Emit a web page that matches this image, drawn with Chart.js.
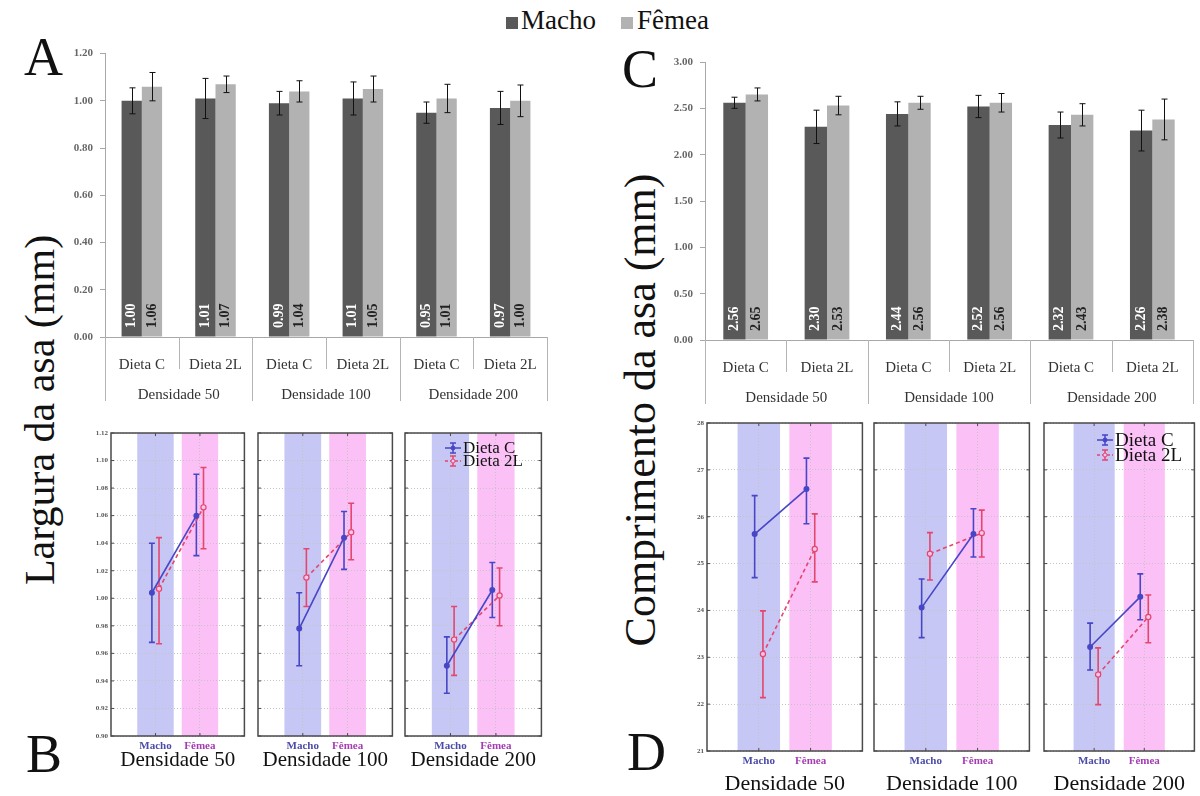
<!DOCTYPE html>
<html lang="pt">
<head>
<meta charset="utf-8">
<title>Largura e comprimento da asa</title>
<script src="https://cdn.jsdelivr.net/npm/chart.js@4.4.1/dist/chart.umd.min.js"></script>
<style>
  body { margin: 0; background: #fff; width: 1200px; height: 796px; overflow: hidden; position: relative; font-family: "Liberation Serif", "Times New Roman", serif; color: #111; }
  canvas { position: absolute; }
  .letra { position: absolute; font-size: 54px; line-height: 1; }
  .titulo-y { position: absolute; line-height: 1; white-space: nowrap; transform: translate(-50%, -50%) rotate(-90deg); }
  .quadro { position: absolute; width: 12px; height: 12px; }
  .leg-topo { position: absolute; font-size: 27px; line-height: 1; }
  .leg-painel { position: absolute; line-height: 1; white-space: nowrap; }
  .leg-painel div { display: flex; align-items: center; }
  .leg-painel svg { margin-right: 2px; }
</style>
</head>
<body>

<div class="quadro" style="left:506px; top:17px; background:#595959"></div>
<div class="leg-topo" style="left:521px; top:7px">Macho</div>
<div class="quadro" style="left:621px; top:17px; background:#b2b2b2"></div>
<div class="leg-topo" style="left:637px; top:7px">Fêmea</div>

<div class="letra" style="left:24px; top:30px">A</div>
<div class="letra" style="left:622px; top:42px">C</div>
<div class="letra" style="left:26px; top:727px">B</div>
<div class="letra" style="left:627px; top:725px">D</div>

<div class="titulo-y" style="left:40px; top:410px; font-size:42px">Largura da asa (mm)</div>
<div class="titulo-y" style="left:641px; top:410px; font-size:44px">Comprimento da asa (mm)</div>

<canvas id="graficoA" width="560" height="361" style="left:0; top:40px"></canvas>
<canvas id="graficoC" width="600" height="364" style="left:600px; top:40px"></canvas>

<canvas id="b0"></canvas><canvas id="b1"></canvas><canvas id="b2"></canvas>
<canvas id="d0"></canvas><canvas id="d1"></canvas><canvas id="d2"></canvas>

<div class="leg-painel" id="legB" style="left:445px; top:441px; font-size:17px"></div>
<div class="leg-painel" id="legD" style="left:1097px; top:432px; font-size:19px"></div>

<script>
// categorias
const densidades = ['Densidade 50', 'Densidade 100', 'Densidade 200'];
const dietas = ['Dieta C', 'Dieta 2L'];
const sexos = ['Macho', 'Fêmea'];
const rotulosBarras = ['Dieta C', 'Dieta 2L', 'Dieta C', 'Dieta 2L', 'Dieta C', 'Dieta 2L'];

// A - largura da asa (mm): media e erro por sexo
const largMacho = [1.00, 1.01, 0.99, 1.01, 0.95, 0.97];
const largFemea = [1.06, 1.07, 1.04, 1.05, 1.01, 1.00];
const largMachoErro = [0.055, 0.085, 0.050, 0.070, 0.045, 0.070];
const largFemeaErro = [0.060, 0.035, 0.045, 0.055, 0.060, 0.067];
const largTicks = [0, 0.2, 0.4, 0.6, 0.8, 1.0, 1.2];

// C - comprimento da asa (mm)
const compMacho = [2.56, 2.30, 2.44, 2.52, 2.32, 2.26];
const compFemea = [2.65, 2.53, 2.56, 2.56, 2.43, 2.38];
const compMachoErro = [0.06, 0.18, 0.13, 0.12, 0.14, 0.22];
const compFemeaErro = [0.07, 0.10, 0.07, 0.10, 0.12, 0.22];
const compTicks = [0, 0.5, 1.0, 1.5, 2.0, 2.5, 3.0];

// B - largura: [Macho, Fêmea] por densidade
const largCMedia = [[1.004, 1.060], [0.978, 1.044], [0.951, 1.006]];
const largCInf   = [[0.968, 1.031], [0.951, 1.021], [0.931, 0.986]];
const largCSup   = [[1.040, 1.090], [1.004, 1.063], [0.972, 1.026]];
const larg2LMedia = [[1.007, 1.066], [1.015, 1.048], [0.970, 1.002]];
const larg2LInf   = [[0.967, 1.036], [0.994, 1.028], [0.944, 0.980]];
const larg2LSup   = [[1.044, 1.095], [1.036, 1.069], [0.994, 1.022]];
const largPainelTicks = [0.90, 0.92, 0.94, 0.96, 0.98, 1.00, 1.02, 1.04, 1.06, 1.08, 1.10, 1.12];

// D - comprimento (x0,1 mm): [Macho, Fêmea] por densidade
const compCMedia = [[25.63, 26.59], [24.06, 25.63], [23.22, 24.29]];
const compCInf   = [[24.70, 25.85], [23.42, 25.14], [22.73, 23.80]];
const compCSup   = [[26.45, 27.25], [24.67, 26.17], [23.73, 24.78]];
const comp2LMedia = [[23.07, 25.31], [25.21, 25.65], [22.63, 23.86]];
const comp2LInf   = [[22.14, 24.61], [24.65, 25.14], [21.99, 23.31]];
const comp2LSup   = [[23.99, 26.06], [25.66, 26.14], [23.20, 24.33]];
const compPainelTicks = [21, 22, 23, 24, 25, 26, 27, 28];

const fonte = '"Liberation Serif", "Times New Roman", serif';
const corC = '#4646c6';
const cor2L = '#e4466e';
const corSexo = ['#4b4ba8', '#a53cb4'];

// ---------- graficos de barras (A e C) ----------

const barrasErro = {
  id: 'barrasErro',
  afterDatasetsDraw(chart) {
    const ctx = chart.ctx, y = chart.scales.y;
    ctx.save();
    ctx.strokeStyle = '#111';
    ctx.lineWidth = 1;
    chart.data.datasets.forEach((ds, i) => {
      chart.getDatasetMeta(i).data.forEach((bar, j) => {
        const y1 = y.getPixelForValue(ds.data[j] + ds.erros[j]);
        const y2 = y.getPixelForValue(ds.data[j] - ds.erros[j]);
        const x = Math.round(bar.x) + 0.5;
        ctx.beginPath();
        ctx.moveTo(x, y1); ctx.lineTo(x, y2);
        ctx.moveTo(x - 3, y1); ctx.lineTo(x + 3, y1);
        ctx.moveTo(x - 3, y2); ctx.lineTo(x + 3, y2);
        ctx.stroke();
      });
    });
    ctx.restore();
  }
};

const rotulosValor = {
  id: 'rotulosValor',
  afterDatasetsDraw(chart) {
    const ctx = chart.ctx, base = chart.scales.y.getPixelForValue(0);
    ctx.save();
    ctx.font = 'bold 14px ' + fonte;
    ctx.textAlign = 'left';
    ctx.textBaseline = 'middle';
    chart.data.datasets.forEach((ds, i) => {
      chart.getDatasetMeta(i).data.forEach((bar, j) => {
        ctx.save();
        ctx.translate(bar.x, base - 9);
        ctx.rotate(-Math.PI / 2);
        ctx.fillStyle = ds.corRotulo;
        ctx.fillText(ds.data[j].toFixed(2), 0, 0);
        ctx.restore();
      });
    });
    ctx.restore();
  }
};

// linhas que separam as dietas e as densidades abaixo do eixo
const divisorias = {
  id: 'divisorias',
  afterDraw(chart) {
    const x = chart.scales.x, x2 = chart.scales.x2, ctx = chart.ctx;
    const n = chart.data.labels.length, passo = (x.right - x.left) / n;
    ctx.save();
    ctx.strokeStyle = '#b4b4b4';
    ctx.lineWidth = 1;
    for (let i = 0; i <= n; i++) {
      const px = Math.round(x.left + i * passo) + 0.5;
      const fim = i % 2 === 0 ? x2.bottom : x.bottom;
      ctx.beginPath();
      ctx.moveTo(px, x.top);
      ctx.lineTo(px, fim);
      ctx.stroke();
    }
    ctx.restore();
  }
};

function graficoBarras(id, macho, femea, erroMacho, erroFemea, ticksY, pad) {
  return new Chart(document.getElementById(id), {
    type: 'bar',
    data: {
      labels: rotulosBarras,
      datasets: [
        { label: 'Macho', data: macho, erros: erroMacho, corRotulo: '#fff', backgroundColor: '#595959', xAxisID: 'x' },
        { label: 'Fêmea', data: femea, erros: erroFemea, corRotulo: '#222', backgroundColor: '#b2b2b2', xAxisID: 'x' }
      ]
    },
    options: {
      responsive: false,
      animation: false,
      layout: { padding: pad },
      plugins: { legend: { display: false }, tooltip: { enabled: false } },
      datasets: { bar: { categoryPercentage: 0.55, barPercentage: 1 } },
      scales: {
        x: {
          type: 'category',
          weight: 0,
          grid: { display: false },
          border: { display: true, color: '#a8a8a8' },
          ticks: { color: '#333', font: { family: fonte, size: 15 }, padding: 11, maxRotation: 0 },
          afterFit: s => { s.height = 32; }
        },
        x2: {
          type: 'category',
          labels: densidades,
          position: 'bottom',
          offset: true,
          weight: 1,
          grid: { display: false },
          border: { display: false },
          ticks: { color: '#333', font: { family: fonte, size: 15 }, padding: 9, maxRotation: 0 },
          afterFit: s => { s.height = 32; }
        },
        y: {
          min: ticksY[0],
          max: ticksY[ticksY.length - 1],
          afterBuildTicks: s => { s.ticks = ticksY.map(v => ({ value: v })); },
          grid: { drawOnChartArea: false, drawTicks: true, tickLength: 5, color: '#a8a8a8' },
          border: { display: true, color: '#a8a8a8' },
          ticks: { color: '#666', font: { family: fonte, size: 11, weight: 'bold' }, padding: 7, callback: v => v.toFixed(2) },
          afterFit: s => { s.width = 60; }
        }
      }
    },
    plugins: [barrasErro, rotulosValor, divisorias]
  });
}

graficoBarras('graficoA', largMacho, largFemea, largMachoErro, largFemeaErro, largTicks,
  { left: 45, right: 13, top: 13, bottom: 0 });
graficoBarras('graficoC', compMacho, compFemea, compMachoErro, compFemeaErro, compTicks,
  { left: 45, right: 7, top: 22, bottom: 0 });

// ---------- paineis de interacao (B e D) ----------

const faixas = {
  id: 'faixas',
  beforeDraw(chart) {
    const { ctx, chartArea: a } = chart, x = chart.scales.x;
    const cores = ['#c7c7f6', '#fbc1f7'];
    ctx.save();
    sexos.forEach((s, j) => {
      const x1 = x.getPixelForValue(j - 0.41), x2 = x.getPixelForValue(j + 0.41);
      ctx.fillStyle = cores[j];
      ctx.fillRect(x1, a.top, x2 - x1, a.bottom - a.top);
    });
    ctx.restore();
  }
};

const errosPainel = {
  id: 'errosPainel',
  beforeDatasetsDraw(chart) {
    const ctx = chart.ctx, y = chart.scales.y;
    ctx.save();
    ctx.lineWidth = 1.6;
    chart.data.datasets.forEach((ds, i) => {
      ctx.strokeStyle = ds.borderColor;
      chart.getDatasetMeta(i).data.forEach((pt, j) => {
        const y1 = y.getPixelForValue(ds.sup[j]), y2 = y.getPixelForValue(ds.inf[j]);
        ctx.beginPath();
        ctx.moveTo(pt.x, y1); ctx.lineTo(pt.x, y2);
        ctx.moveTo(pt.x - 3, y1); ctx.lineTo(pt.x + 3, y1);
        ctx.moveTo(pt.x - 3, y2); ctx.lineTo(pt.x + 3, y2);
        ctx.stroke();
      });
    });
    ctx.restore();
  }
};

// moldura do painel com marcas internas
const moldura = {
  id: 'moldura',
  afterDraw(chart) {
    const { ctx, chartArea: a } = chart, x = chart.scales.x, y = chart.scales.y;
    ctx.save();
    ctx.strokeStyle = '#4a4a4a';
    ctx.lineWidth = 1.5;
    ctx.strokeRect(a.left, a.top, a.right - a.left, a.bottom - a.top);
    ctx.lineWidth = 1;
    ctx.beginPath();
    y.ticks.forEach(t => {
      const py = y.getPixelForValue(t.value);
      ctx.moveTo(a.left, py); ctx.lineTo(a.left + 3, py);
      ctx.moveTo(a.right, py); ctx.lineTo(a.right - 3, py);
    });
    x.ticks.forEach(t => {
      const px = x.getPixelForValue(t.value);
      ctx.moveTo(px, a.top); ctx.lineTo(px, a.top + 3);
      ctx.moveTo(px, a.bottom); ctx.lineTo(px, a.bottom - 3);
    });
    ctx.stroke();
    ctx.restore();
  }
};

function painel(id, k, box, cfg) {
  const cv = document.getElementById(id);
  cv.width = box.right - box.left + cfg.yLarg + 4;
  cv.height = cfg.altura;
  cv.style.left = (box.left - cfg.yLarg) + 'px';
  cv.style.top = cfg.topo + 'px';

  const pontos = (medias, desvio) => medias[k].map((v, j) => ({ x: j + desvio, y: v }));

  return new Chart(cv, {
    type: 'line',
    data: {
      datasets: [
        {
          label: dietas[0], data: pontos(cfg.mediaC, -0.08), inf: cfg.infC[k], sup: cfg.supC[k],
          borderColor: corC, backgroundColor: corC, borderWidth: 1.6,
          pointRadius: 2.2, pointBackgroundColor: corC, pointBorderColor: corC
        },
        {
          label: dietas[1], data: pontos(cfg.media2L, 0.08), inf: cfg.inf2L[k], sup: cfg.sup2L[k],
          borderColor: cor2L, backgroundColor: cor2L, borderWidth: 1.6, borderDash: [4, 3],
          pointRadius: 2.6, pointBackgroundColor: '#f9c4ee', pointBorderColor: cor2L, pointBorderWidth: 1.2
        }
      ]
    },
    options: {
      responsive: false,
      animation: false,
      layout: { padding: { left: 0, right: 4, top: 8, bottom: 0 } },
      plugins: { legend: { display: false }, tooltip: { enabled: false } },
      scales: {
        x: {
          type: 'linear',
          min: -1,
          max: 2,
          afterBuildTicks: s => { s.ticks = sexos.map((_, j) => ({ value: j })); },
          grid: { color: '#c4c4c4', drawTicks: false },
          border: { display: false, dash: [1, 2] },
          ticks: {
            padding: 4,
            font: { family: fonte, size: 11, weight: 'bold' },
            color: c => corSexo[c.index],
            callback: (v, i) => sexos[i]
          },
          title: {
            display: true, text: densidades[k], color: '#111',
            font: { family: fonte, size: cfg.tituloTam, lineHeight: 1 }, padding: 0
          },
          afterFit: s => { s.height = cfg.xAlt; }
        },
        y: {
          min: cfg.ticks[0],
          max: cfg.ticks[cfg.ticks.length - 1],
          afterBuildTicks: s => { s.ticks = cfg.ticks.map(v => ({ value: v })); },
          grid: { color: '#c4c4c4', drawTicks: false },
          border: { display: false, dash: [1, 2] },
          ticks: {
            display: k === 0,
            padding: 3,
            color: '#555',
            font: { family: fonte, size: 7, weight: 'bold' },
            callback: cfg.formato
          },
          afterFit: s => { s.width = cfg.yLarg; }
        }
      }
    },
    plugins: [faixas, errosPainel, moldura]
  });
}

const caixasB = [{ left: 111, right: 246 }, { left: 258, right: 394 }, { left: 405, right: 543 }];
const caixasD = [{ left: 707, right: 864 }, { left: 874, right: 1031 }, { left: 1044, right: 1196 }];

const cfgB = {
  mediaC: largCMedia, infC: largCInf, supC: largCSup,
  media2L: larg2LMedia, inf2L: larg2LInf, sup2L: larg2LSup,
  ticks: largPainelTicks, formato: v => v.toFixed(2),
  topo: 425, altura: 346, xAlt: 35, yLarg: 22, tituloTam: 21
};
const cfgD = {
  mediaC: compCMedia, infC: compCInf, supC: compCSup,
  media2L: comp2LMedia, inf2L: comp2LInf, sup2L: comp2LSup,
  ticks: compPainelTicks, formato: v => String(v),
  topo: 415, altura: 380, xAlt: 44, yLarg: 24, tituloTam: 22
};

caixasB.forEach((b, k) => painel('b' + k, k, b, cfgB));
caixasD.forEach((b, k) => painel('d' + k, k, b, cfgD));

// legenda das dietas dentro do terceiro painel
function legendaPainel(id, alturaLinha) {
  const icone = (cor, tracejado) =>
    '<svg width="16" height="12" viewBox="0 0 16 12">' +
    '<line x1="0" y1="6" x2="16" y2="6" stroke="' + cor + '" stroke-width="1.5"' + (tracejado ? ' stroke-dasharray="3 2"' : '') + '/>' +
    '<line x1="8" y1="1" x2="8" y2="11" stroke="' + cor + '" stroke-width="1.5"/>' +
    '<line x1="5" y1="1" x2="11" y2="1" stroke="' + cor + '" stroke-width="1.5"/>' +
    '<line x1="5" y1="11" x2="11" y2="11" stroke="' + cor + '" stroke-width="1.5"/>' +
    '<circle cx="8" cy="6" r="2" fill="' + (tracejado ? '#f9c4ee' : cor) + '" stroke="' + cor + '"/></svg>';
  const el = document.getElementById(id);
  el.innerHTML =
    '<div>' + icone(corC, false) + '<span>' + dietas[0] + '</span></div>' +
    '<div>' + icone(cor2L, true) + '<span>' + dietas[1] + '</span></div>';
  el.querySelectorAll('div').forEach(d => { d.style.height = alturaLinha + 'px'; });
}
legendaPainel('legB', 13);
legendaPainel('legD', 15);
</script>
</body>
</html>
